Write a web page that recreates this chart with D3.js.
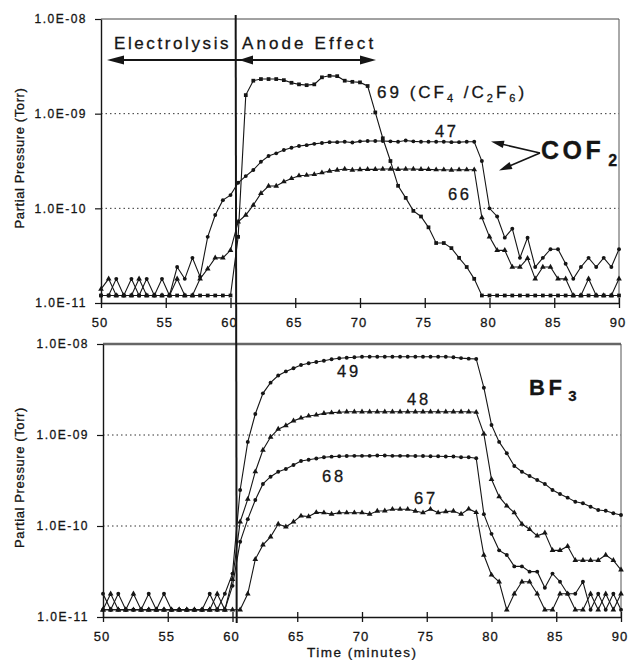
<!DOCTYPE html>
<html><head><meta charset="utf-8">
<script src="https://cdn.jsdelivr.net/npm/d3@7"></script>
<style>
body{margin:0;background:#fff}
text{font-family:"Liberation Sans",Arial,sans-serif;fill:#151515;stroke:#151515;stroke-width:0.3px}
</style>
</head><body>
<svg id="c" width="628" height="660"></svg>
<script>
// ---------------- DATA ----------------
const times = [50.00,50.59,51.18,51.76,52.35,52.94,53.53,54.12,54.71,55.29,55.88,56.47,57.06,57.65,58.24,58.82,59.41,60.00,
  60.59,61.18,61.76,62.35,62.94,63.53,64.12,64.71,65.29,65.88,66.47,67.06,67.65,68.24,68.82,69.41,70.00,70.59,71.18,71.76,
  72.35,72.94,73.53,74.12,74.71,75.29,75.88,76.47,77.06,77.65,78.24,78.82,79.41,80.00,80.59,81.18,81.76,82.35,82.94,83.53,
  84.12,84.71,85.29,85.88,86.47,87.06,87.65,88.24,88.82,89.41,90.00];

// Top panel: CF4/C2F6 (m/z 69) and COF2 (m/z 47, 66)
const s69 = [1.2e-11,1.2e-11,1.2e-11,1.2e-11,1.2e-11,1.2e-11,1.2e-11,1.2e-11,1.2e-11,1.2e-11,1.2e-11,1.2e-11,1.2e-11,1.2e-11,1.2e-11,1.2e-11,1.2e-11,1.2e-11,
  5.0e-11,1.57e-9,2.23e-9,2.32e-9,2.32e-9,2.32e-9,2.26e-9,2.12e-9,2.04e-9,2.0e-9,2.04e-9,2.42e-9,2.51e-9,2.49e-9,2.23e-9,2.17e-9,2.14e-9,1.96e-9,
  1.03e-9,5.5e-10,3.16e-10,1.73e-10,1.29e-10,9.4e-11,8.2e-11,6.3e-11,4.3e-11,4.3e-11,3.8e-11,3.0e-11,2.4e-11,1.8e-11,
  1.2e-11,1.2e-11,1.2e-11,1.2e-11,1.2e-11,1.2e-11,1.2e-11,1.2e-11,1.2e-11,1.2e-11,1.2e-11,1.2e-11,1.2e-11,1.2e-11,1.2e-11,1.2e-11,1.2e-11,1.2e-11,1.2e-11];
const s47 = [1.2e-11,1.2e-11,1.8e-11,1.2e-11,1.8e-11,1.2e-11,1.8e-11,1.2e-11,1.8e-11,1.2e-11,2.4e-11,1.8e-11,3.0e-11,1.9e-11,5.0e-11,8.5e-11,1.22e-10,1.38e-10,
  1.86e-10,2.19e-10,2.54e-10,3.1e-10,3.57e-10,3.81e-10,4.13e-10,4.36e-10,4.55e-10,4.65e-10,4.8e-10,4.9e-10,5.0e-10,5.0e-10,5.05e-10,4.95e-10,5.1e-10,5.15e-10,
  5.15e-10,5.15e-10,5.1e-10,5.05e-10,5.2e-10,5.1e-10,5.05e-10,5.05e-10,5.05e-10,5.05e-10,5.0e-10,5.0e-10,5.05e-10,5.05e-10,
  3.16e-10,1.0e-10,8.2e-11,4.9e-11,6.1e-11,3.0e-11,4.9e-11,2.4e-11,3.0e-11,3.7e-11,3.7e-11,2.6e-11,1.8e-11,2.4e-11,3.0e-11,2.4e-11,3.0e-11,2.4e-11,3.7e-11];
const s66 = [1.4e-11,1.8e-11,1.2e-11,1.2e-11,1.2e-11,1.8e-11,1.2e-11,1.2e-11,1.2e-11,1.2e-11,1.8e-11,1.2e-11,1.2e-11,1.8e-11,2.3e-11,3.0e-11,3.0e-11,3.6e-11,
  7.2e-11,8.5e-11,1.08e-10,1.44e-10,1.72e-10,1.72e-10,1.91e-10,2.07e-10,2.21e-10,2.24e-10,2.28e-10,2.38e-10,2.48e-10,2.54e-10,2.6e-10,2.54e-10,2.57e-10,2.58e-10,
  2.58e-10,2.6e-10,2.6e-10,2.58e-10,2.6e-10,2.6e-10,2.58e-10,2.58e-10,2.56e-10,2.56e-10,2.54e-10,2.56e-10,2.56e-10,2.56e-10,
  8.0e-11,5.0e-11,3.6e-11,3.6e-11,2.4e-11,2.4e-11,2.96e-11,1.8e-11,2.4e-11,2.4e-11,1.8e-11,1.8e-11,1.2e-11,1.2e-11,1.8e-11,1.2e-11,1.2e-11,1.2e-11,1.8e-11];

// Bottom panel: BF3 (m/z 49, 48, 68, 67)
const s49 = [1.8e-11,1.2e-11,1.8e-11,1.2e-11,1.2e-11,1.2e-11,1.2e-11,1.2e-11,1.2e-11,1.2e-11,1.2e-11,1.2e-11,1.2e-11,1.2e-11,1.8e-11,1.2e-11,1.8e-11,3.0e-11,
  2.49e-10,8.4e-10,1.70e-9,2.87e-9,3.76e-9,4.5e-9,5.0e-9,5.41e-9,5.88e-9,6.14e-9,6.34e-9,6.55e-9,6.79e-9,6.96e-9,7.07e-9,7.14e-9,
  7.25e-9,7.25e-9,7.25e-9,7.25e-9,7.25e-9,7.25e-9,7.25e-9,7.25e-9,7.25e-9,7.25e-9,7.25e-9,7.25e-9,7.14e-9,7.0e-9,6.9e-9,6.85e-9,
  3.31e-9,1.29e-9,8.4e-10,6.3e-10,4.57e-10,3.95e-10,3.54e-10,3.2e-10,2.9e-10,2.49e-10,2.25e-10,2.05e-10,1.85e-10,1.78e-10,1.63e-10,1.50e-10,1.47e-10,1.38e-10,1.32e-10];
const s48 = [1.2e-11,1.8e-11,1.2e-11,1.2e-11,1.8e-11,1.2e-11,1.2e-11,1.2e-11,1.2e-11,1.2e-11,1.2e-11,1.2e-11,1.2e-11,1.2e-11,1.2e-11,1.8e-11,1.2e-11,2.6e-11,
  1.11e-10,1.97e-10,3.95e-10,6.84e-10,9.5e-10,1.16e-9,1.27e-9,1.43e-9,1.54e-9,1.62e-9,1.66e-9,1.73e-9,1.76e-9,1.78e-9,
  1.80e-9,1.80e-9,1.80e-9,1.80e-9,1.80e-9,1.80e-9,1.80e-9,1.80e-9,1.80e-9,1.80e-9,1.80e-9,1.80e-9,1.80e-9,1.80e-9,1.80e-9,1.80e-9,1.80e-9,1.78e-9,
  1.03e-9,3.26e-10,2.1e-10,1.66e-10,1.40e-10,1.05e-10,9.2e-11,7.8e-11,8.4e-11,5.4e-11,5.4e-11,6.0e-11,4.2e-11,4.2e-11,4.2e-11,4.2e-11,4.8e-11,4.2e-11,3.3e-11];
const s68 = [1.2e-11,1.2e-11,1.2e-11,1.2e-11,1.2e-11,1.2e-11,1.8e-11,1.2e-11,1.8e-11,1.2e-11,1.2e-11,1.2e-11,1.2e-11,1.2e-11,1.2e-11,1.2e-11,1.2e-11,2.2e-11,
  6.7e-11,1.19e-10,1.93e-10,2.9e-10,3.48e-10,3.95e-10,4.23e-10,4.68e-10,5.18e-10,5.35e-10,5.52e-10,5.69e-10,5.78e-10,
  5.85e-10,5.88e-10,5.9e-10,5.9e-10,5.9e-10,5.95e-10,5.95e-10,5.9e-10,5.9e-10,5.9e-10,5.88e-10,5.88e-10,5.85e-10,5.85e-10,5.8e-10,5.8e-10,5.7e-10,5.69e-10,5.55e-10,
  1.35e-10,8.2e-11,5.4e-11,4.8e-11,3.6e-11,3.6e-11,3.15e-11,3.15e-11,2.1e-11,3.0e-11,2.44e-11,1.8e-11,1.8e-11,2.44e-11,1.2e-11,1.8e-11,1.2e-11,1.8e-11,1.2e-11];
const s67 = [1.2e-11,1.2e-11,1.2e-11,1.2e-11,1.2e-11,1.2e-11,1.2e-11,1.2e-11,1.2e-11,1.2e-11,1.2e-11,1.2e-11,1.2e-11,1.2e-11,1.2e-11,1.2e-11,1.2e-11,1.2e-11,
  1.2e-11,1.8e-11,4.3e-11,6.2e-11,7.6e-11,1.05e-10,9.8e-11,1.11e-10,1.29e-10,1.27e-10,1.41e-10,1.40e-10,1.35e-10,1.40e-10,1.40e-10,1.40e-10,1.40e-10,1.35e-10,
  1.46e-10,1.47e-10,1.53e-10,1.53e-10,1.53e-10,1.46e-10,1.40e-10,1.53e-10,1.40e-10,1.44e-10,1.46e-10,1.35e-10,1.54e-10,1.41e-10,
  4.8e-11,2.9e-11,2.44e-11,1.2e-11,1.8e-11,2.44e-11,2.44e-11,1.8e-11,1.2e-11,1.2e-11,1.8e-11,1.8e-11,1.2e-11,1.2e-11,1.8e-11,1.2e-11,1.8e-11,1.2e-11,1.8e-11];

const xTicks = [50,55,60,65,70,75,80,85,90];
const yTicks = [1e-11,1e-10,1e-9,1e-8];
const yTickLabels = ["1.0E-11","1.0E-10","1.0E-09","1.0E-08"];
const gridValues = [1e-10,1e-9];
const anodeStart = 60.4;

// ---------------- DRAWING ----------------
const svg = d3.select("#c");
const INK = "#151515";

const topP = {
  x: d3.scaleLinear().domain([50,90]).range([101,619]),
  y: d3.scaleLog().domain([1e-11,1e-8]).range([303,19]),
  series: [{v:s69,m:"square"},{v:s47,m:"circle"},{v:s66,m:"triangle"}],
  topStroke: 1, topColor: "#444"
};
const botP = {
  x: d3.scaleLinear().domain([50,90]).range([103,621]),
  y: d3.scaleLog().domain([1e-11,1e-8]).range([617,344]),
  series: [{v:s49,m:"circle"},{v:s48,m:"triangle"},{v:s68,m:"circle"},{v:s67,m:"triangle"}],
  topStroke: 2.4, topColor: "#666"
};

function drawPanel(P){
  const g = svg.append("g");
  const [x0,x1] = P.x.range();
  const [yb,yt] = P.y.range();
  g.selectAll("line.grid").data(gridValues).join("line")
    .attr("x1",x0).attr("x2",x1).attr("y1",d=>P.y(d)).attr("y2",d=>P.y(d))
    .attr("stroke","#333").attr("stroke-width",1).attr("stroke-dasharray","1.5,3");
  g.append("line").attr("x1",x0).attr("x2",x1).attr("y1",yt).attr("y2",yt)
    .attr("stroke",P.topColor).attr("stroke-width",P.topStroke);
  g.append("line").attr("x1",x1).attr("x2",x1).attr("y1",yt).attr("y2",yb)
    .attr("stroke","#555").attr("stroke-width",1);
  const xa = g.append("g").attr("transform",`translate(0,${yb})`)
    .call(d3.axisBottom(P.x).tickValues(xTicks).tickFormat(d3.format("d")).tickSize(5).tickSizeOuter(0).tickPadding(9.5));
  xa.attr("font-family",null).attr("font-size",null);
  xa.select(".domain").attr("stroke",INK).attr("stroke-width",1.4);
  xa.selectAll(".tick line").attr("y1",-5).attr("stroke",INK).attr("stroke-width",1.3);
  xa.selectAll(".tick text").attr("font-size",13).attr("letter-spacing",1).attr("dx",-1.5).style("fill",INK);
  const ya = g.append("g").attr("transform",`translate(${x0},0)`)
    .call(d3.axisLeft(P.y).tickValues(yTicks).tickFormat((d,i)=>yTickLabels[i]).tickSize(6).tickSizeOuter(0).tickPadding(8));
  ya.attr("font-family",null).attr("font-size",null);
  ya.select(".domain").attr("stroke",INK).attr("stroke-width",1.4);
  ya.selectAll(".tick line").attr("stroke",INK).attr("stroke-width",1.2);
  ya.selectAll(".tick text").attr("font-size",12).attr("letter-spacing",1.5).style("fill",INK);
  g.append("text").attr("transform",`translate(24,${(yb+yt)/2-3}) rotate(-90)`)
    .attr("text-anchor","middle").attr("font-size",13).attr("letter-spacing",0.6)
    .text("Partial Pressure (Torr)");
  const line = d3.line().x((d,i)=>P.x(times[i])).y(d=>P.y(d));
  P.series.forEach(s=>{
    g.append("path").datum(s.v).attr("d",line).attr("fill","none")
      .attr("stroke",INK).attr("stroke-width",1.1);
    const sym = s.m==="square"? d3.symbolSquare : s.m==="triangle"? d3.symbolTriangle : d3.symbolCircle;
    const size = s.m==="square"? 14 : s.m==="triangle"? 14 : 12;
    g.selectAll(null).data(s.v).join("path")
      .attr("transform",(d,i)=>`translate(${P.x(times[i])},${P.y(d)})`)
      .attr("d",d3.symbol(sym,size)).attr("fill",INK);
  });
  return g;
}
drawPanel(topP);
drawPanel(botP);

svg.append("line")
  .attr("x1",topP.x(anodeStart)).attr("y1",15)
  .attr("x2",(topP.x(anodeStart)+botP.x(anodeStart))/2).attr("y2",623)
  .attr("stroke",INK).attr("stroke-width",2);

svg.append("text").attr("x",307).attr("y",657).attr("font-size",13.5).attr("letter-spacing",1.5)
  .text("Time (minutes)");

function head(tipX,tipY,dx,dy,len,hw){
  const n = Math.hypot(dx,dy), ux=dx/n, uy=dy/n;
  const bx = tipX-ux*len, by = tipY-uy*len;
  svg.append("path").attr("d",`M${tipX},${tipY}L${bx-uy*hw},${by+ux*hw}L${bx+uy*hw},${by-ux*hw}Z`).attr("fill",INK);
}
const ax = topP.x(anodeStart);
svg.append("line").attr("x1",ax).attr("x2",112).attr("y1",60).attr("y2",60).attr("stroke",INK).attr("stroke-width",2);
head(107,60,-1,0,17,4.5);
svg.append("line").attr("x1",ax).attr("x2",370).attr("y1",60).attr("y2",60).attr("stroke",INK).attr("stroke-width",2);
head(376,60,1,0,16,4.5);
head(239,60,-1,0,14,4.5);
svg.append("line").attr("x1",540).attr("y1",153).attr("x2",497).attr("y2",143).attr("stroke",INK).attr("stroke-width",1.6);
head(491,141.5,-48,-11,13,3.8);
svg.append("line").attr("x1",540).attr("y1",153).attr("x2",505).attr("y2",168).attr("stroke",INK).attr("stroke-width",1.6);
head(499,170.5,-41,17,13,3.8);

function label(x,y,size,ls,parts,weight){
  const t = svg.append("text").attr("x",x).attr("y",y).attr("font-size",size)
    .attr("letter-spacing",ls).attr("font-weight",weight||"normal");
  let shift = 0;
  parts.forEach(p=>{
    const ts = t.append("tspan").text(p.t);
    const target = p.sub? p.sub : 0;
    if(target!==shift){ ts.attr("dy",target-shift); shift=target; }
    if(p.dx) ts.attr("dx",p.dx);
    if(p.fs) ts.attr("font-size",p.fs);
  });
}
label(114,49,17,2.6,[{t:"Electrolysis"}]);
label(242,49,17,3.1,[{t:"Anode Effect"}]);
label(377,98,17,3,[{t:"69 (CF"},{t:"4",sub:4,fs:11},{t:" /C"},{t:"2",sub:4,fs:11},{t:"F"},{t:"6",sub:4,fs:11},{t:")"}]);
label(435,137,16.5,2.5,[{t:"47"}]);
label(448,200,16.5,2.5,[{t:"66"}]);
label(541,159,25,3.5,[{t:"COF"},{t:"2",sub:7,fs:16,dx:4}],"bold");
label(337,377,16.5,2.8,[{t:"49"}]);
label(407,405,16.5,2.8,[{t:"48"}]);
label(322,482,16.5,2.8,[{t:"68"}]);
label(414,504,16.5,2.8,[{t:"67"}]);
label(529,395,22,3.5,[{t:"BF"},{t:"3",sub:6,fs:15,dx:3}],"bold");
</script>
</body></html>
